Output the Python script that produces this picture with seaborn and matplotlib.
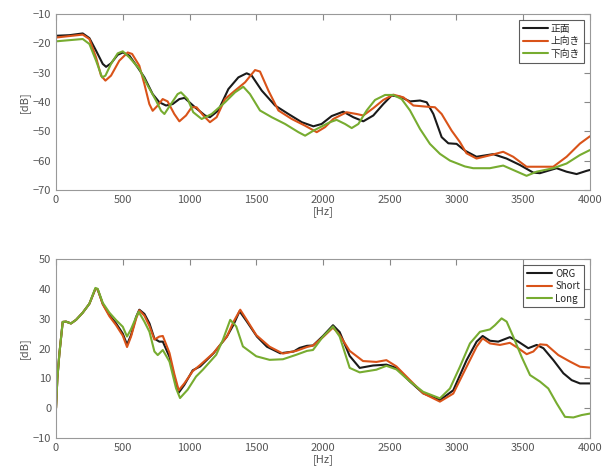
import numpy as np
import pandas as pd
import matplotlib
matplotlib.use("Agg")
import matplotlib.pyplot as plt
import seaborn as sns

# --- top panel: direction comparison ---
top_labels = ["正面", "上向き", "下向き"]

front_hz = [0, 100, 200, 250, 300, 350, 375, 412, 462, 500, 550, 612, 662, 724, 774, 824, 874,
            924, 963, 1041, 1116, 1153, 1216, 1291, 1366, 1428, 1466, 1541, 1641, 1741, 1841,
            1928, 1990, 2065, 2152, 2227, 2302, 2377, 2452, 2514, 2577, 2652, 2727, 2777, 2827,
            2889, 2939, 3001, 3063, 3150, 3275, 3375, 3475, 3575, 3625, 3750, 3825, 3900, 3975,
            4000]
front_db = [-17.4, -17.2, -16.6, -18.2, -22.5, -27.0, -28.0, -26.8, -23.9, -23.1, -24.2, -28.2,
            -31.6, -37.3, -40.1, -41.2, -40.7, -39.0, -38.6, -41.8, -44.6, -45.2, -42.9, -35.6,
            -31.6, -30.2, -31.0, -36.1, -41.2, -44.1, -46.9, -48.3, -47.5, -44.8, -43.3, -45.2,
            -46.6, -44.6, -40.7, -37.8, -38.2, -39.8, -39.5, -40.1, -44.1, -52.0, -54.1, -54.3,
            -56.6, -58.7, -57.8, -59.3, -61.5, -64.1, -64.3, -62.6, -63.8, -64.6, -63.5, -63.2]

up_hz = [0, 200, 250, 300, 337, 370, 412, 474, 537, 570, 624, 662, 699, 724, 762, 799, 836,
         886, 924, 974, 1016, 1053, 1103, 1153, 1203, 1266, 1341, 1416, 1491, 1528, 1591, 1666,
         1766, 1866, 1953, 2015, 2077, 2177, 2252, 2302, 2377, 2452, 2527, 2602, 2677, 2777,
         2839, 2889, 2964, 3026, 3075, 3150, 3250, 3350, 3425, 3525, 3625, 3725, 3825, 3925,
         4000]
up_db = [-18.0, -17.0, -18.5, -24.8, -31.0, -32.7, -31.0, -25.9, -23.1, -23.6, -27.6, -33.9,
         -40.7, -43.0, -41.2, -39.0, -39.8, -44.1, -46.6, -44.6, -41.8, -41.8, -44.6, -46.9,
         -45.2, -39.0, -36.1, -33.3, -29.1, -29.6, -36.1, -42.9, -45.8, -48.1, -50.3, -48.6,
         -45.8, -43.5, -44.1, -44.6, -42.1, -39.3, -37.5, -38.4, -41.2, -41.6, -41.8, -44.1,
         -49.8, -53.7, -57.5, -59.3, -58.2, -57.0, -58.7, -62.1, -62.1, -62.1, -58.7, -54.2,
         -51.7]

down_hz = [0, 200, 250, 300, 345, 370, 412, 462, 500, 550, 624, 687, 749, 787, 812, 861, 911,
           936, 986, 1028, 1091, 1166, 1266, 1341, 1403, 1453, 1528, 1616, 1716, 1816, 1866,
           1928, 2052, 2102, 2165, 2215, 2265, 2327, 2390, 2465, 2527, 2589, 2652, 2727, 2801,
           2876, 2951, 3063, 3125, 3250, 3350, 3425, 3525, 3600, 3725, 3825, 3925, 4000]
down_db = [-19.3, -18.5, -20.2, -25.9, -31.6, -31.0, -27.0, -23.4, -22.7, -24.8, -28.7, -34.4,
           -39.5, -43.0, -44.1, -40.7, -37.3, -36.7, -39.0, -43.5, -45.8, -44.1, -40.1, -36.7,
           -34.8, -37.3, -42.9, -45.2, -47.5, -50.3, -51.5, -49.8, -46.9, -46.1, -47.5, -48.9,
           -47.5, -42.9, -39.3, -37.6, -37.6, -39.0, -42.9, -49.2, -54.3, -57.7, -60.0, -62.0,
           -62.6, -62.6, -61.7, -63.2, -65.2, -63.8, -62.6, -61.0, -58.1, -56.4]

# --- bottom panel: ORG / Short / Long ---
bottom_labels = ["ORG", "Short", "Long"]

org_hz = [0, 10, 25, 50, 75, 112, 150, 200, 250, 295, 312, 350, 400, 450, 500, 532, 562, 600,
          624, 662, 700, 737, 774, 800, 850, 886, 919, 961, 1024, 1080, 1180, 1280, 1330, 1375,
          1430, 1505, 1580, 1680, 1780, 1825, 1880, 1925, 2000, 2075, 2125, 2200, 2275, 2375,
          2475, 2550, 2650, 2750, 2876, 2976, 3076, 3151, 3196, 3251, 3313, 3400, 3463, 3538,
          3601, 3651, 3726, 3801, 3863, 3925, 4000]
org_db = [0.0, 10.0, 18.2, 28.9, 29.0, 28.4, 29.6, 32.0, 35.0, 40.0, 39.8, 35.0, 31.2, 28.4,
          25.0, 21.3, 24.5, 30.6, 33.0, 31.6, 28.4, 23.3, 22.3, 22.3, 17.2, 10.6, 5.2, 7.8,
          12.7, 14.0, 18.4, 24.0, 28.0, 32.5, 29.0, 24.0, 20.6, 18.4, 19.0, 20.2, 20.9, 21.0,
          24.2, 27.8, 25.5, 17.5, 13.5, 14.3, 14.6, 13.5, 9.0, 5.0, 2.7, 6.0, 16.1, 22.3, 24.2,
          22.6, 22.3, 23.8, 22.3, 20.1, 21.2, 20.1, 16.1, 11.7, 9.4, 8.3, 8.3]

short_hz = [0, 10, 25, 50, 75, 112, 150, 200, 250, 295, 312, 350, 400, 450, 500, 532, 562, 600,
            624, 662, 700, 737, 774, 800, 850, 886, 919, 961, 1024, 1080, 1180, 1280, 1330, 1380,
            1430, 1500, 1600, 1700, 1800, 1880, 1925, 2000, 2075, 2125, 2200, 2300, 2400, 2475,
            2550, 2650, 2750, 2876, 2976, 3076, 3151, 3196, 3251, 3326, 3400, 3463, 3526, 3576,
            3626, 3676, 3763, 3851, 3925, 4000]
short_db = [0.0, 10.0, 18.2, 28.9, 29.0, 28.4, 29.6, 32.0, 35.0, 40.0, 39.8, 34.8, 30.8, 27.8,
            24.3, 20.5, 24.0, 30.0, 32.8, 31.0, 27.5, 23.0, 24.0, 24.2, 18.5, 11.5, 6.0, 8.3,
            12.4, 14.5, 18.5, 24.0, 29.0, 33.0, 29.5, 24.5, 20.6, 18.3, 19.2, 20.5, 21.0, 23.8,
            27.0, 24.5, 19.2, 15.8, 15.5, 16.1, 14.0, 9.5, 5.0, 2.2, 4.9, 13.9, 20.6, 23.4, 21.7,
            21.2, 21.9, 20.1, 18.1, 19.0, 21.4, 21.2, 17.8, 15.6, 13.9, 13.6]

long_hz = [0, 10, 25, 50, 75, 112, 150, 200, 250, 295, 312, 350, 400, 450, 500, 532, 562, 600,
           619, 662, 700, 737, 762, 800, 850, 899, 929, 986, 1049, 1100, 1200, 1250, 1305, 1350,
           1400, 1500, 1600, 1700, 1800, 1880, 1925, 2000, 2075, 2125, 2200, 2275, 2400, 2475,
           2550, 2650, 2750, 2876, 2951, 3026, 3101, 3176, 3251, 3288, 3338, 3376, 3426, 3488,
           3551, 3626, 3688, 3751, 3813, 3876, 3938, 4000]
long_db = [0.0, 10.0, 18.2, 28.9, 29.0, 28.4, 29.6, 32.0, 35.0, 40.3, 40.0, 35.3, 32.0, 29.5,
           27.3, 24.0, 26.5, 30.5, 32.3, 29.0, 25.6, 19.0, 17.8, 19.5, 15.6, 6.7, 3.4, 6.2, 10.6,
           12.9, 17.9, 22.9, 29.6, 27.4, 20.7, 17.4, 16.2, 16.4, 17.9, 19.2, 19.5, 24.0, 27.4,
           24.0, 13.5, 12.0, 12.9, 14.2, 13.0, 9.0, 5.5, 3.3, 6.6, 13.9, 21.7, 25.6, 26.4, 27.8,
           30.1, 29.0, 23.9, 17.2, 11.1, 8.9, 6.6, 1.6, -2.9, -3.1, -2.3, -1.8]

line_colors = ["#1a1a1a", "#D95319", "#77AC30"]


def build_frame(labels, series):
    parts = []
    for name, (hz, db) in zip(labels, series):
        parts.append(pd.DataFrame({"Hz": hz, "dB": db, "series": name}))
    return pd.concat(parts, ignore_index=True)


top_df = build_frame(top_labels, [(front_hz, front_db), (up_hz, up_db), (down_hz, down_db)])
bottom_df = build_frame(bottom_labels, [(org_hz, org_db), (short_hz, short_db), (long_hz, long_db)])

sns.set_style("white")
plt.rcParams["font.family"] = ["Noto Sans CJK JP", "DejaVu Sans"]

fig = plt.figure(figsize=(6.13, 4.70), dpi=100)
ax_top = fig.add_axes([0.0914, 0.596, 0.871, 0.374])
ax_bot = fig.add_axes([0.0914, 0.068, 0.871, 0.381])

gray = "#555555"
panels = [
    (ax_top, top_df, top_labels, (-70, -10)),
    (ax_bot, bottom_df, bottom_labels, (-10, 50)),
]
for ax, df, labels, ylim in panels:
    sns.lineplot(
        data=df, x="Hz", y="dB", hue="series", hue_order=labels,
        palette=dict(zip(labels, line_colors)), estimator=None, sort=True,
        linewidth=1.5, ax=ax,
    )
    ax.set_xlim(0, 4000)
    ax.set_ylim(*ylim)
    ax.set_xticks(np.arange(0, 4001, 500))
    ax.set_yticks(np.arange(ylim[0], ylim[1] + 1, 10))
    ax.tick_params(direction="in", top=True, right=True, length=4, width=0.8,
                   color="#888888", labelsize=8, labelcolor=gray)
    for spine in ax.spines.values():
        spine.set_color("#999999")
        spine.set_linewidth(0.8)
    ax.set_xlabel("[Hz]", fontsize=8, color=gray, labelpad=1)
    ax.set_ylabel("[dB]", fontsize=8, color=gray, labelpad=2)
    leg = ax.legend(loc="upper right", fontsize=7, frameon=True, fancybox=False,
                    handlelength=2.6, handletextpad=0.3, borderpad=0.4,
                    labelspacing=0.25, borderaxespad=0.6)
    leg.get_frame().set_edgecolor("#333333")
    leg.get_frame().set_linewidth(0.8)

fig.savefig("out.png", dpi=100)
